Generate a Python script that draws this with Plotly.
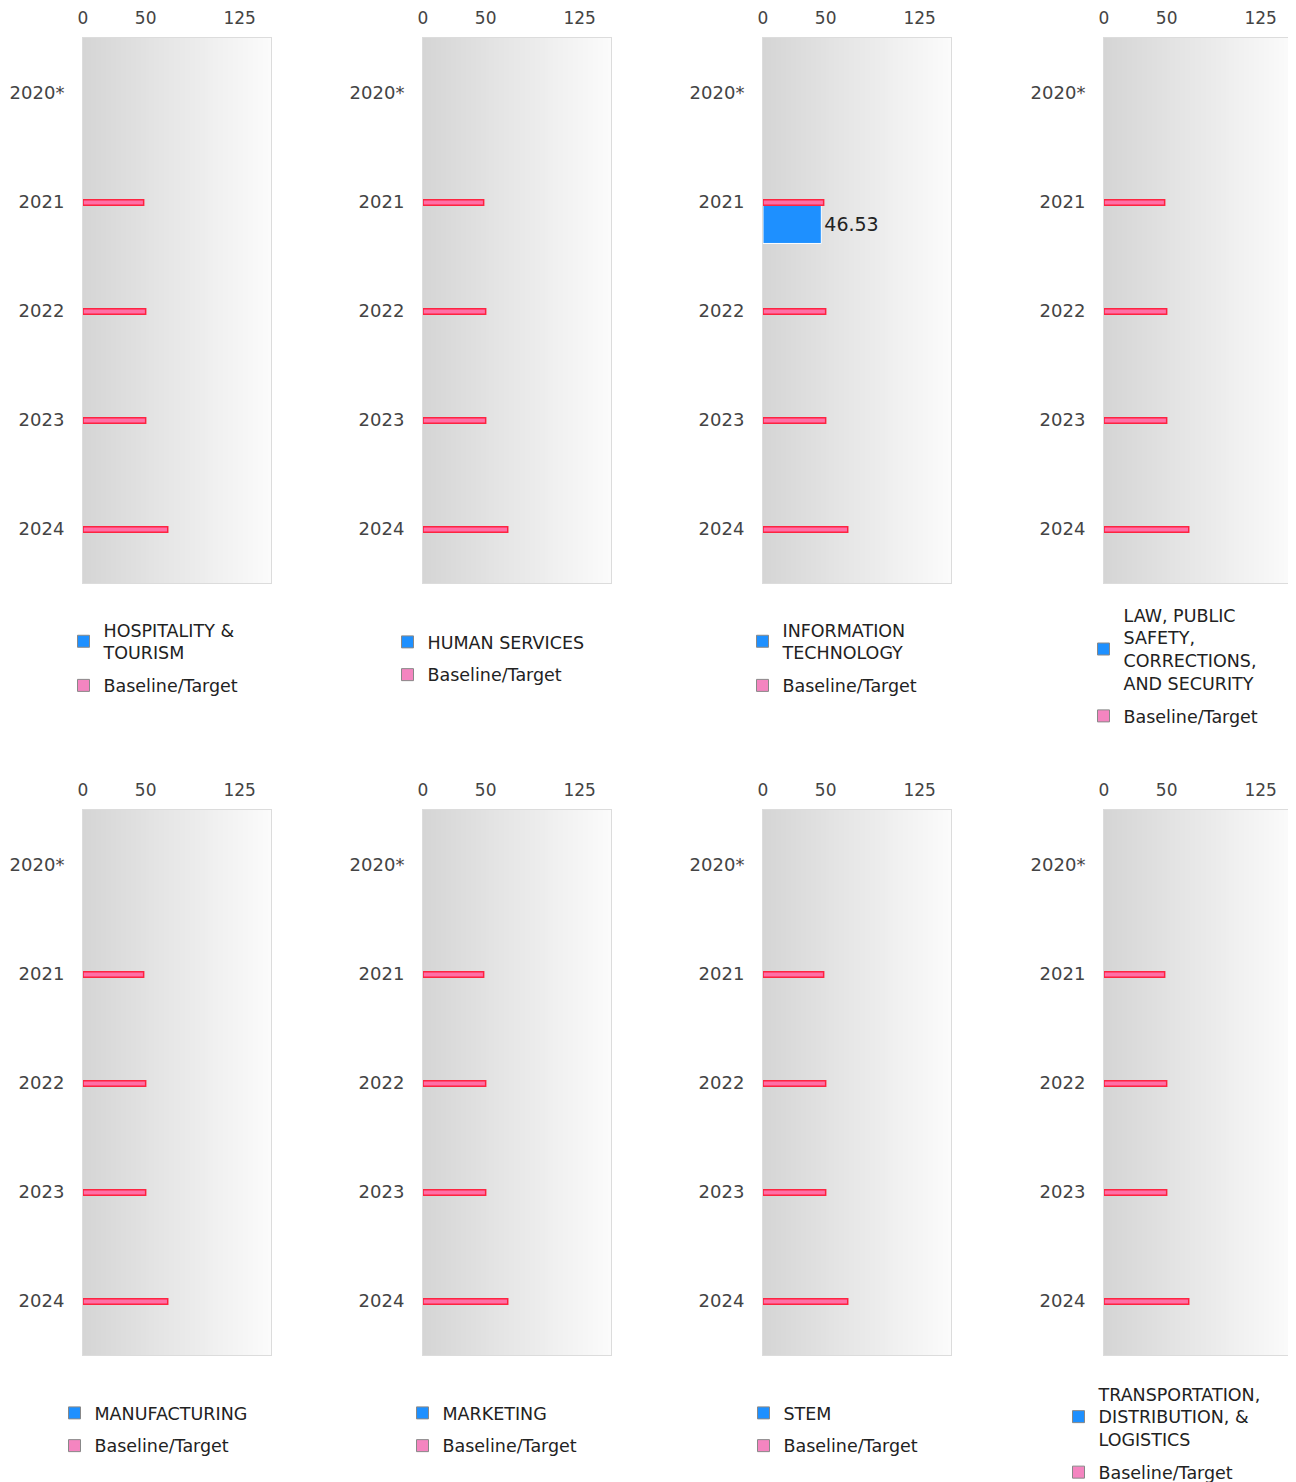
import plotly.graph_objects as go

# ---------------- data ----------------
years = ["2020*", "2021", "2022", "2023", "2024"]
panel_names = [
    "HOSPITALITY &<br>TOURISM",
    "HUMAN SERVICES",
    "INFORMATION<br>TECHNOLOGY",
    "LAW, PUBLIC<br>SAFETY,<br>CORRECTIONS,<br>AND SECURITY",
    "MANUFACTURING",
    "MARKETING",
    "STEM",
    "TRANSPORTATION,<br>DISTRIBUTION, &<br>LOGISTICS",
]
actual_hospitality = [None, None, None, None, None]
actual_human = [None, None, None, None, None]
actual_it = [None, 46.53, None, None, None]
actual_law = [None, None, None, None, None]
actual_manufacturing = [None, None, None, None, None]
actual_marketing = [None, None, None, None, None]
actual_stem = [None, None, None, None, None]
actual_transport = [None, None, None, None, None]
actual_values = [actual_hospitality, actual_human, actual_it, actual_law,
                 actual_manufacturing, actual_marketing, actual_stem, actual_transport]
target_values = [None, 48.4, 50.0, 50.0, 67.6]
x_tickvals = [0, 50, 125]
x_max = 150

# ---------------- styling ----------------
PAGE_W, PAGE_H = 1296, 1482
OFF = 8                      # page body margin
W, H = PAGE_W - OFF, PAGE_H - OFF
FONT = "DejaVu Sans"
BLUE = "#1e90ff"
PINK = "#ff6fa6"
PINK_LEG = "#f485c0"
RED = "rgba(255,20,50,0.9)"

col_left = [83, 423, 763, 1104]
plot_w = 188
row_top = [38, 810]
plot_h = 545

# legend anchor: (square center x, legend top y) in page pixels
legend_pos = [
    (82, 612), (406, 624), (761, 612), (1102, 597),
    (73, 1395), (421, 1395), (762, 1395), (1077, 1376),
]


def px_x(p):
    return (p - OFF) / W


def px_y(p):
    return 1 - (p - OFF) / H


fig = go.Figure()
layout_updates = {}

for i in range(8):
    r, c = divmod(i, 4)
    n = i + 1
    xa = "x" if n == 1 else f"x{n}"
    ya = "y" if n == 1 else f"y{n}"
    xkey = "xaxis" if n == 1 else f"xaxis{n}"
    ykey = "yaxis" if n == 1 else f"yaxis{n}"
    lkey = "legend" if n == 1 else f"legend{n}"

    # gradient background
    ncol = 150
    fig.add_trace(go.Heatmap(
        z=[list(range(ncol))] * len(years),
        x0=0.5 * x_max / ncol, dx=x_max / ncol,
        y=years,
        colorscale=[[0, "#d5d5d5"], [1, "#fbfbfb"]],
        showscale=False, hoverinfo="skip",
        xaxis=xa, yaxis=ya, showlegend=False,
    ))

    # actual values (blue)
    vals = actual_values[i]
    fig.add_trace(go.Bar(
        x=vals, y=years, orientation="h",
        marker=dict(color=BLUE, line=dict(color="white", width=1)),
        width=0.35, offset=0.035,
        text=[("%.2f" % v) if v is not None else "" for v in vals],
        textposition="outside", cliponaxis=False,
        textfont=dict(family=FONT, size=19, color="#222"),
        xaxis=xa, yaxis=ya, showlegend=False, hoverinfo="x+y",
    ))
    # baseline/target
    fig.add_trace(go.Bar(
        x=target_values, y=years, orientation="h",
        marker=dict(color=PINK, line=dict(color=RED, width=1.5)),
        width=0.05, offset=-0.015,
        xaxis=xa, yaxis=ya, showlegend=False, hoverinfo="x+y",
    ))
    # legend entries
    fig.add_trace(go.Bar(
        x=[None], y=[None], orientation="h", name=panel_names[i],
        marker=dict(color=BLUE, line=dict(color="#888", width=1)),
        xaxis=xa, yaxis=ya, legend=lkey, legendgroup=f"a{i}",
    ))
    fig.add_trace(go.Bar(
        x=[None], y=[None], orientation="h", name="Baseline/Target",
        marker=dict(color=PINK_LEG, line=dict(color="#888", width=1)),
        xaxis=xa, yaxis=ya, legend=lkey, legendgroup=f"b{i}",
    ))

    x0 = px_x(col_left[c])
    x1 = px_x(col_left[c] + plot_w)
    y1 = px_y(row_top[r])
    y0 = px_y(row_top[r] + plot_h)

    layout_updates[xkey] = dict(
        domain=[x0, x1], range=[0, x_max], side="top",
        tickvals=x_tickvals, showgrid=False, zeroline=False,
        showline=True, mirror=True, linecolor="#dcdcdc", linewidth=1,
        ticks="outside", ticklen=6, tickcolor="rgba(0,0,0,0)",
        tickfont=dict(family=FONT, size=17, color="#444"),
        anchor=ya, fixedrange=True, automargin=False,
    )
    layout_updates[ykey] = dict(
        domain=[y0, y1], type="category", categoryorder="array",
        categoryarray=years, autorange="reversed",
        showgrid=False, zeroline=False,
        showline=True, mirror=True, linecolor="#dcdcdc", linewidth=1,
        ticks="outside", ticklen=14, tickcolor="rgba(0,0,0,0)",
        tickfont=dict(family=FONT, size=18, color="#444"),
        anchor=xa, fixedrange=True, automargin=False,
    )
    sx, ty = legend_pos[i]
    layout_updates[lkey] = dict(
        x=px_x(sx - 18.5), y=px_y(ty), xanchor="left", yanchor="top",
        font=dict(family=FONT, size=17.5, color="#222"),
        bgcolor="rgba(0,0,0,0)", traceorder="grouped", tracegroupgap=7,
        orientation="v",
    )

fig.update_layout(
    width=W, height=H, autosize=False,
    margin=dict(l=0, r=0, t=0, b=0, autoexpand=False),
    paper_bgcolor="white", plot_bgcolor="white",
    barmode="overlay",
    font=dict(family=FONT, size=17, color="#333"),
    **layout_updates,
)

fig.write_html("out.html")
